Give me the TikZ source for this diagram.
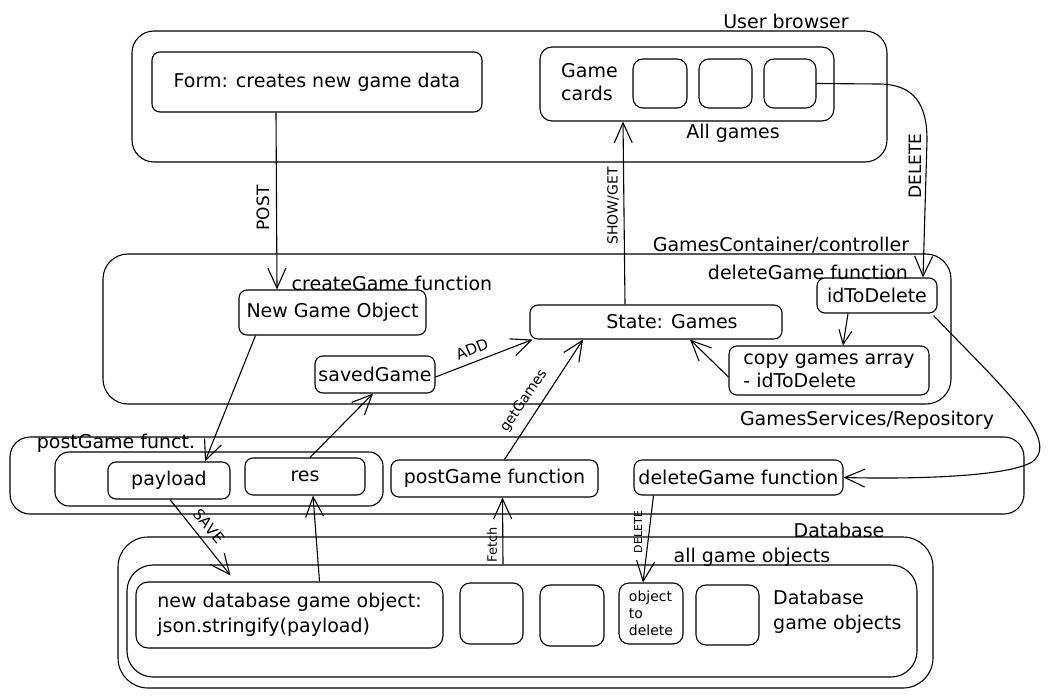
\documentclass[tikz,border=0pt]{standalone}
\usepackage{fontspec}
\setmainfont{DejaVu Sans}
\usetikzlibrary{arrows.meta}
\begin{document}
\begin{tikzpicture}[x=1pt,y=-1pt,
  box/.style={draw, line width=1.1pt, rounded corners=8pt, inner sep=0pt, align=center, font=\fontsize{19}{23}\selectfont},
  cardbox/.style={box, rounded corners=10pt},
  lbl/.style={inner sep=0pt, align=left, font=\fontsize{19}{23}\selectfont},
  arr/.style={line width=1.1pt, -{Straight Barb[length=20pt,width=18pt,line width=1.1pt]}},
  sarr/.style={line width=1.1pt, -{Straight Barb[length=14pt,width=13pt,line width=1.1pt]}}
]
\useasboundingbox (0,0) rectangle (1051,698);

% ---------- User browser ----------
\node[box, rounded corners=22pt, minimum width=755pt, minimum height=131pt] (ub) at (509.5,96.5) {};
\node[lbl] (lub) at (786,21) {User browser};
\node[box, minimum width=330pt, minimum height=60pt] (form) at (317,82) {Form: creates new game data};
\node[box, rounded corners=12pt, minimum width=294pt, minimum height=74pt] (cards) at (687,84) {};
\node[lbl, anchor=west] (lcards) at (561,82) {Game\\cards};
\node[cardbox, minimum width=54pt, minimum height=49pt] (c1) at (660,83.5) {};
\node[cardbox, minimum width=53pt, minimum height=49pt] (c2) at (725.5,83.5) {};
\node[cardbox, minimum width=52pt, minimum height=49pt] (c3) at (790,83.5) {};
\node[lbl] (lall) at (733,133) {All games};

% ---------- Controller ----------
\node[box, rounded corners=25pt, minimum width=848pt, minimum height=150pt] (ctrl) at (527,329) {};
\node[lbl] (lctrl) at (781,245) {GamesContainer/controller};
\node[lbl] (lcreate) at (392,283) {createGame function};
\node[lbl] (ldel) at (808,272) {deleteGame function};
\node[box, minimum width=187pt, minimum height=45pt] (ngo) at (332.5,312.5) {New Game Object};
\node[box, minimum width=120pt, minimum height=37pt] (saved) at (375,374.5) {savedGame};
\node[box, minimum width=252pt, minimum height=34pt] (state) at (656,322) {\hspace*{32pt}State: Games};
\node[box, minimum width=120pt, minimum height=35pt] (idtd) at (877,295.5) {idToDelete};
\node[box, align=left, minimum width=200pt, minimum height=49pt] (copy) at (829,370.5) {copy games array\\- idToDelete};

% ---------- Services / Repository ----------
\node[box, rounded corners=20pt, minimum width=1014pt, minimum height=77pt] (repo) at (517,475.5) {};
\node[lbl] (lrepo) at (867,420) {GamesServices/Repository};
\node[box, rounded corners=14pt, minimum width=328pt, minimum height=54pt] (pgf) at (219,479) {};
\node[lbl] (lpgf) at (116,443) {postGame funct.};
\node[box, minimum width=122pt, minimum height=37pt] (payload) at (169,480.5) {payload};
\node[box, minimum width=120pt, minimum height=37pt] (res) at (305,476.5) {res};
\node[box, minimum width=207pt, minimum height=37pt] (pgfn) at (494.5,478.5) {postGame function};
\node[box, minimum width=209pt, minimum height=35pt] (dgfn) at (738.5,477.5) {deleteGame function};

% ---------- Database ----------
\node[box, rounded corners=30pt, minimum width=815pt, minimum height=151pt] (dbo) at (525.5,612.5) {};
\node[lbl] (ldb) at (839,530) {Database};
\node[box, rounded corners=26pt, minimum width=790pt, minimum height=112pt] (dbi) at (522,621) {};
\node[lbl] (lallobj) at (752,557) {all game objects};
\node[box, align=left, rounded corners=12pt, minimum width=307pt, minimum height=66pt, font=\fontsize{19}{25}\selectfont] (newobj) at (289.5,615) {new database game object:\\json.stringify(payload)};
\node[cardbox, minimum width=63pt, minimum height=61pt] (o1) at (491.5,613.5) {};
\node[cardbox, minimum width=64pt, minimum height=61pt] (o2) at (572,615.5) {};
\node[cardbox, align=left, minimum width=64pt, minimum height=61pt, font=\fontsize{14}{17}\selectfont] (otd) at (651,613.5) {object\\to\\delete};
\node[cardbox, minimum width=63pt, minimum height=60pt] (o4) at (727.5,615) {};
\node[lbl, anchor=west, font=\fontsize{19}{25}\selectfont] (ldbgo) at (773,612) {Database\\game objects};

% ---------- Connectors ----------
\draw[arr] ([xshift=-41pt]form.south) -- ([xshift=-55.5pt]ngo.north);
\node[lbl, rotate=90, font=\fontsize{17}{20}\selectfont] (lpost) at (263,208) {POST};

\draw[arr] ([xshift=-31pt]state.north) -- ([xshift=-64pt]cards.south);
\node[lbl, rotate=90, font=\fontsize{14}{17}\selectfont] (lshow) at (613,206) {SHOW/GET};

\draw[arr] (c3.east) -- (878,84) .. controls (915,84) and (927,105) .. (927,140) -- ([xshift=46pt]idtd.north);
\node[lbl, rotate=90, font=\fontsize{17}{20}\selectfont] (ldelete) at (915,166) {DELETE};

\draw[sarr] ([xshift=-29pt]idtd.south) -- ([xshift=14pt]copy.north);
\draw[arr] ([yshift=-6.5pt]copy.west) -- ([xshift=34pt]state.south);
\draw[arr] ([yshift=-2.5pt]saved.east) -- ([xshift=3pt]state.south west);
\node[lbl, rotate=22, font=\fontsize{15}{18}\selectfont] (ladd) at (472,349) {ADD};

\draw[arr] ([xshift=-77pt]ngo.south) -- ([xshift=36pt]payload.north);
\draw[arr] ([xshift=5pt]res.north) -- ([xshift=-2pt]saved.south);
\draw[arr] ([xshift=30pt]newobj.north) -- ([xshift=8pt]res.south);
\draw[arr] ([xshift=1pt]payload.south) -- ([xshift=-59pt,yshift=6pt]newobj.north);
\node[lbl, rotate=-51, font=\fontsize{15}{18}\selectfont] (lsave) at (209,526) {SAVE};

\draw[arr] ([xshift=10pt]pgfn.north) -- ([xshift=-73pt]state.south);
\node[lbl, rotate=56, font=\fontsize{14}{17}\selectfont] (lget) at (524,401) {getGames};

\draw[arr] ([xshift=-19pt]dbi.north) -- ([xshift=8pt]pgfn.south);
\node[lbl, rotate=90, font=\fontsize{13}{16}\selectfont] (lfetch) at (492,545) {Fetch};

\draw[arr] ([xshift=-85pt]dgfn.south) -- ([xshift=-8pt]otd.north);
\node[lbl, rotate=90, font=\fontsize{11}{13}\selectfont] (ldel2) at (638,532) {DELETE};

\draw[arr] ([xshift=-4pt,yshift=-2pt]idtd.south east) .. controls (1000,385) and (1062,440) .. (1032,462) .. controls (1005,478) and (900,479) .. (dgfn.east);
\end{tikzpicture}
\end{document}
